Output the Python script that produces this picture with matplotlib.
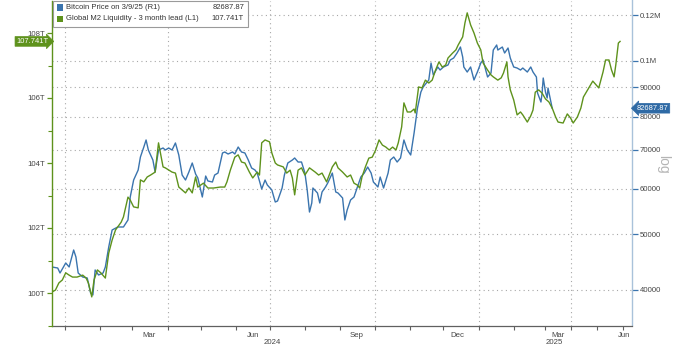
import numpy as np
import pandas as pd
import matplotlib
matplotlib.use("Agg")
import matplotlib.pyplot as plt
import matplotlib.transforms as mtransforms
from matplotlib.patches import Rectangle
from matplotlib.ticker import FixedLocator, NullFormatter, FixedFormatter, NullLocator

plt.rcParams['font.family'] = ['Liberation Sans', 'DejaVu Sans']

# ---------------------------------------------------------------- data
BASE = pd.Timestamp('2024-01-01')   # day numbers below count from here

btc_day = [
    -11, -6, -4, 1, 4, 8, 10, 12, 16, 20,
    23, 25, 27, 30, 34, 36, 39, 42, 47, 52,
    56, 58, 61, 65, 67, 70, 72, 74, 78, 80,
    83, 87, 89, 92, 95, 98, 101, 104, 107, 110,
    113, 116, 118, 122, 125, 127, 131, 133, 136, 140,
    142, 145, 149, 151, 154, 157, 160, 163, 166, 169,
    171, 175, 178, 180, 184, 187, 189, 193, 195, 198,
    202, 204, 207, 210, 213, 215, 217, 219, 220, 224,
    226, 228, 231, 233, 237, 240, 242, 246, 248, 250,
    253, 256, 259, 262, 265, 268, 271, 273, 277, 279,
    282, 286, 288, 291, 294, 297, 300, 303, 306, 309,
    312, 315, 317, 322, 324, 326, 330, 332, 335, 339,
    341, 344, 347, 350, 352, 353, 356, 359, 362, 365,
    368, 370, 374, 377, 379, 382, 383, 387, 389, 392,
    394, 397, 400, 403, 405, 409, 412, 414, 417, 418,
    421, 422, 423, 425, 427, 428, 433,
]
btc_price = [
    43850, 43670, 42810, 44560, 43850, 46930, 45640, 42810, 42130, 41960,
    39520, 39210, 43330, 42470, 42810, 43850, 47500, 50840, 51450, 51450,
    52910, 58000, 62070, 64600, 68050, 70820, 72840, 69980, 67240, 64090,
    69980, 70540, 69980, 70540, 69980, 71970, 68600, 63320, 62070, 64090,
    66440, 63580, 62570, 58000, 63070, 61830, 61580, 63320, 63830, 69150,
    69420, 68870, 69420, 68870, 70820, 69420, 69150, 67240, 65120, 64600,
    63830, 59880, 62070, 60850, 59650, 56850, 57080, 60120, 63320, 66440,
    67240, 67780, 66700, 66700, 63830, 59650, 54620, 56630, 60120, 58930,
    56630, 59170, 60360, 61340, 63830, 59170, 58930, 57770, 52910, 55060,
    57310, 58000, 60360, 62820, 63830, 65380, 63830, 61580, 60360, 62820,
    60120, 63830, 67240, 68050, 66700, 67780, 72840, 69980, 68600, 74900,
    82760, 88220, 90000, 92560, 99060, 94430, 97500, 96330, 97500, 98280,
    100260, 101060, 103100, 105600, 101460, 97500, 95560, 97500, 92560, 95560,
    99060, 100260, 93670, 95180, 104340, 106450, 104340, 105600, 103100, 105180,
    101060, 97500, 97100, 96330, 97100, 95560, 97500, 95560, 93670, 87870,
    84770, 87870, 93300, 88220, 86130, 89640, 82687.87,
]

m2_day = [
    -11, -8, -5, -2, 1, 4, 7, 11, 16, 19,
    21, 24, 26, 29, 32, 36, 39, 42, 45, 50,
    52, 56, 58, 61, 65, 67, 70, 73, 76, 80,
    83, 87, 89, 95, 98, 101, 104, 107, 110, 113,
    116, 118, 123, 127, 132, 138, 142, 144, 147, 151,
    154, 157, 160, 164, 167, 171, 173, 175, 178, 182,
    184, 187, 189, 194, 197, 200, 202, 204, 207, 210,
    213, 217, 222, 225, 228, 232, 237, 240, 242, 246,
    250, 253, 256, 259, 261, 263, 266, 269, 272, 275,
    278, 281, 284, 287, 290, 293, 295, 298, 300, 303,
    306, 309, 310, 313, 316, 319, 322, 325, 328, 331,
    334, 337, 339, 343, 346, 348, 352, 354, 356, 359,
    362, 365, 368, 370, 374, 377, 379, 383, 386, 388,
    391, 392, 394, 397, 400, 403, 405, 409, 412, 414,
    416, 419, 422, 425, 429, 433, 437, 440, 446, 451,
    455, 458, 463, 467, 470, 475, 481, 485, 488, 493,
    496, 500, 503, 506, 508, 511, 513,
]
m2_trillions = [
    100.03, 100.09, 100.31, 100.40, 100.62, 100.55, 100.49, 100.49, 100.55, 100.46,
    100.31, 99.88, 100.40, 100.71, 100.62, 100.46, 101.23, 101.63, 101.94, 102.18,
    102.34, 102.95, 102.86, 102.65, 102.62, 103.48, 103.42, 103.57, 103.63, 103.72,
    104.62, 103.88, 103.85, 103.72, 103.69, 103.26, 103.17, 103.08, 103.23, 103.08,
    103.57, 103.26, 103.38, 103.23, 103.23, 103.26, 103.26, 103.42, 103.78, 104.18,
    104.25, 104.03, 104.00, 103.72, 103.54, 103.72, 103.63, 104.62, 104.71, 104.65,
    104.31, 104.00, 103.94, 103.88, 103.69, 103.78, 103.54, 103.02, 103.78, 103.85,
    103.63, 103.85, 103.72, 103.63, 103.69, 103.42, 103.88, 104.03, 103.85, 103.72,
    103.57, 103.63, 103.38, 103.32, 103.23, 103.57, 103.88, 104.15, 104.18, 104.40,
    104.71, 104.55, 104.49, 104.40, 104.49, 104.40, 104.62, 105.11, 105.85, 105.57,
    105.57, 105.66, 105.54, 106.34, 106.31, 106.55, 106.46, 106.55, 106.86, 107.11,
    106.95, 107.02, 107.23, 107.38, 107.48, 107.63, 107.88, 108.31, 108.62, 108.25,
    108.00, 107.69, 107.48, 107.08, 106.86, 106.71, 106.65, 106.55, 106.62, 106.77,
    107.11, 106.65, 106.25, 105.94, 105.48, 105.57, 105.48, 105.26, 105.45, 105.63,
    106.18, 106.25, 106.15, 105.97, 105.88, 105.69, 105.42, 105.26, 105.23, 105.51,
    105.38, 105.23, 105.42, 105.69, 106.03, 106.25, 106.52, 106.40, 106.31, 106.80,
    107.17, 107.17, 106.86, 106.65, 107.02, 107.69, 107.741,
]

btc_label = 'Bitcoin Price on 3/9/25 (R1)'
m2_label = 'Global M2 Liquidity - 3 month lead (L1)'
btc_last_text = '82687.87'
m2_last_text = '107.741T'

left_ticks = [100, 102, 104, 106, 108]
left_minor = [99, 101, 103, 105, 107]
right_ticks = [40000, 50000, 60000, 70000, 80000, 90000, 100000, 120000]
right_tick_labels = ['40000', '50000', '60000', '70000', '80000', '90000', '0.1M', '0.12M']

month_starts = pd.date_range('2024-01-01', '2025-06-01', freq='MS')
quarter_starts = ['2024-01-01', '2024-04-01', '2024-07-01', '2024-10-01',
                  '2025-01-01', '2025-04-01']
month_labels = ['Mar', 'Jun', 'Sep', 'Dec', 'Mar', 'Jun']
month_label_dates = ['2024-03-16', '2024-06-16', '2024-09-15', '2024-12-13',
                     '2025-03-16', '2025-06-02']
year_labels = ['2024', '2025']
year_label_dates = ['2024-07-03', '2025-03-12']


def to_day(dates):
    return [(pd.Timestamp(d) - BASE).days for d in dates]


# ---------------------------------------------------------------- styling
BLUE = '#3a74ae'
GREEN = '#5e921c'
BLUE_SPINE = '#a9c2da'
GRID = '#a8a8a8'
TEXT = '#454545'

# time axis: calendar spacing up to March 2025, the projection horizon is squeezed
scale_dates = ['2023-11-01', '2024-01-01', '2024-04-01', '2024-07-01', '2024-10-01',
               '2025-01-01', '2025-03-01', '2025-04-01', '2025-06-01', '2025-08-01']
scale_pos = [-5.9, 64, 167, 269, 374, 478, 545, 571, 623, 675]
scale_days = to_day(scale_dates)


def fwd(d):
    return np.interp(d, scale_days, scale_pos)


def inv(p):
    return np.interp(p, scale_pos, scale_days)


W, H = 697, 345
fig = plt.figure(figsize=(W / 100, H / 100), dpi=100)
ax = fig.add_axes([52 / W, 1 - 325.5 / H, 580 / W, 325 / H])
ax2 = ax.twinx()

ax.set_xscale('function', functions=(fwd, inv))

# Bitcoin on the host axes (log scale, right side)
ax.plot(btc_day, btc_price, color=BLUE, lw=1.0, solid_joinstyle='round', zorder=3)
ax.set_yscale('log')
ax.set_ylim(34710, 127170)
ax.set_xlim(-11, 527)

# Global M2 on the twin (linear, left side)
ax2.plot(m2_day, m2_trillions, color=GREEN, lw=1.0, solid_joinstyle='round', zorder=3)
ax2.set_ylim(99, 109)

# sides
ax.yaxis.tick_right()
ax2.yaxis.tick_left()
ax2.yaxis.set_label_position('left')

for s in ['top', 'left']:
    ax.spines[s].set_visible(False)
ax.spines['right'].set_color(BLUE_SPINE)
ax.spines['right'].set_linewidth(1.0)
ax.spines['bottom'].set_color('#606060')
ax.spines['bottom'].set_linewidth(0.9)
for s in ['top', 'right', 'bottom']:
    ax2.spines[s].set_visible(False)
ax2.spines['left'].set_color(GREEN)
ax2.spines['left'].set_linewidth(1.0)

# right axis ticks
ax.yaxis.set_major_locator(FixedLocator(right_ticks))
ax.yaxis.set_major_formatter(FixedFormatter(right_tick_labels))
ax.yaxis.set_minor_locator(NullLocator())
ax.yaxis.set_minor_formatter(NullFormatter())
ax.tick_params(axis='y', which='major', length=4, width=0.9, color=BLUE,
               labelcolor=TEXT, labelsize=5.6, pad=1.5)

# left axis ticks
ax2.yaxis.set_major_locator(FixedLocator(left_ticks))
ax2.yaxis.set_major_formatter(FixedFormatter([f'{v}T' for v in left_ticks]))
ax2.yaxis.set_minor_locator(FixedLocator(left_minor))
ax2.tick_params(axis='y', which='major', length=3.5, width=0.9, color=GREEN,
                labelcolor=TEXT, labelsize=5.6, pad=1.5)
ax2.tick_params(axis='y', which='minor', length=3, width=0.8, color=GREEN)

# time ticks: marks at month starts, labels centred in the month
ax.xaxis.set_major_locator(FixedLocator(to_day(month_starts)))
ax.xaxis.set_major_formatter(NullFormatter())
ax.xaxis.set_minor_locator(FixedLocator(to_day(month_label_dates)))
ax.xaxis.set_minor_formatter(FixedFormatter(month_labels))
ax.tick_params(axis='x', which='major', length=3, width=0.8, color='#606060')
ax.tick_params(axis='x', which='minor', length=0, labelsize=5.6,
               labelcolor=TEXT, pad=4.5)

# grid
ax.yaxis.grid(True, which='major', linestyle=(0, (1, 3)), color=GRID, lw=0.8)
for q in to_day(quarter_starts):
    ax.axvline(q, linestyle=(0, (1, 3)), color=GRID, lw=0.8, zorder=1)

# year captions below the months
yr_tr = mtransforms.blended_transform_factory(ax.transData, ax.transAxes)
for lab, d in zip(year_labels, to_day(year_label_dates)):
    ax.text(d, -0.040, lab, transform=yr_tr, ha='center', va='top',
            fontsize=5.6, color=TEXT, clip_on=False)

# last-value tags
tag_l = mtransforms.blended_transform_factory(ax2.transAxes, ax2.transData)
ax2.text(-0.006, m2_trillions[-1], m2_last_text, transform=tag_l, ha='right',
         va='center', fontsize=5.4, color='white', clip_on=False, zorder=6,
         bbox=dict(boxstyle='rarrow,pad=0.18', fc=GREEN, ec=GREEN, lw=0.5))
tag_r = mtransforms.blended_transform_factory(ax.transAxes, ax.transData)
ax.text(1.008, btc_price[-1], btc_last_text, transform=tag_r, ha='left',
        va='center', fontsize=5.4, color='white', clip_on=False, zorder=6,
        bbox=dict(boxstyle='larrow,pad=0.18', fc='#2f6aa5', ec='#2f6aa5', lw=0.5))

# scale indicator
fig.text(663 / W, 1 - 164 / H, 'log', rotation=270, fontsize=10,
         color='#b5b5b5', ha='center', va='center')

# legend box with latest values
def px(x, y):
    return x / W, 1 - y / H

lx0, ly0 = px(53, 27)
lx1, ly1 = px(248, 0.5)
fig.add_artist(Rectangle((lx0, ly0), lx1 - lx0, ly1 - ly0, transform=fig.transFigure,
                         fc='white', ec='#9a9a9a', lw=0.8, zorder=20))
rows = [(btc_label, btc_last_text, BLUE, 7.5), (m2_label, m2_last_text, GREEN, 19)]
for lab, val, col, yc in rows:
    sx, sy = px(57, yc + 3)
    fig.add_artist(Rectangle((sx, sy), 6 / W, 6 / H, transform=fig.transFigure,
                             fc=col, ec='none', zorder=21))
    tx, ty = px(66, yc)
    fig.text(tx, ty, lab, fontsize=5.5, color='#333333', ha='left', va='center', zorder=22)
    vx, _ = px(244, yc)
    fig.text(vx, ty, val, fontsize=5.5, color='#333333', ha='right', va='center', zorder=22)

fig.savefig('out.png', dpi=100)
